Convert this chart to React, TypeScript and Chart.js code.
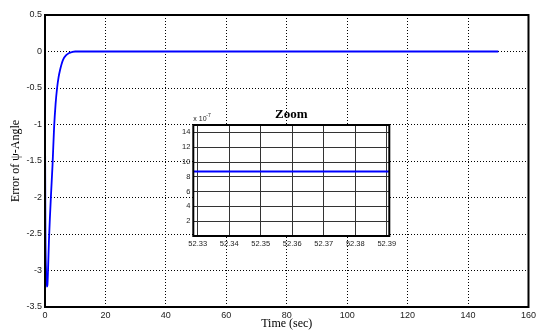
import React, { useEffect, useRef } from "react";
import { Chart, registerables } from "chart.js";

Chart.register(...registerables);

const timeSec = [0, 0.05, 0.15, 0.35, 0.6, 0.8, 1.0, 1.3, 1.6, 2.0, 2.5, 3.0, 3.5, 4.0, 4.5, 5.0, 5.5, 6.0, 7.0, 8.0, 9.0, 10, 12, 150];
const psiError = [0, -1.5, -2.5, -3.0, -3.22, -3.2, -3.0, -2.6, -2.3, -1.95, -1.55, -1.05, -0.72, -0.5, -0.35, -0.25, -0.17, -0.11, -0.05, -0.02, -0.007, 0, 0, 0];

const xTicks = [0, 20, 40, 60, 80, 100, 120, 140, 160];
const yTicks = [0.5, 0, -0.5, -1, -1.5, -2, -2.5, -3, -3.5];

const zoomTime = [52.32, 52.40];
const zoomError = [8.7, 8.7]; // x 10^-7
const zoomXTicks = [52.33, 52.34, 52.35, 52.36, 52.37, 52.38, 52.39];
const zoomYTicks = [2, 4, 6, 8, 10, 12, 14];

const SANS = "'Liberation Sans', Arial, sans-serif";
const SERIF = "'Liberation Serif', 'Times New Roman', serif";

const boxPlugin = {
  id: "box",
  afterDraw(chart: any) {
    const { ctx, chartArea: a } = chart;
    ctx.save();
    ctx.strokeStyle = "#000";
    ctx.lineWidth = 2;
    ctx.strokeRect(a.left, a.top, a.right - a.left, a.bottom - a.top);
    ctx.restore();
  },
};

const insetPlugin = {
  id: "insetBg",
  beforeDraw(chart: any) {
    const { ctx, chartArea: a } = chart;
    ctx.save();
    ctx.fillStyle = "#fff";
    ctx.fillRect(a.left, a.top, a.right - a.left, a.bottom - a.top);
    ctx.restore();
  },
  afterDraw(chart: any) {
    const { ctx, chartArea: a } = chart;
    ctx.save();
    ctx.fillStyle = "#222";
    ctx.textBaseline = "alphabetic";
    ctx.textAlign = "left";
    ctx.font = `7px ${SANS}`;
    ctx.fillText("x 10", a.left, a.top - 4);
    ctx.font = `5px ${SANS}`;
    ctx.fillText("-7", a.left + 13, a.top - 8);
    ctx.fillStyle = "#000";
    ctx.font = `bold 13px ${SERIF}`;
    ctx.textAlign = "center";
    ctx.fillText("Zoom", (a.left + a.right) / 2, a.top - 7);
    ctx.restore();
  },
};

export default function App() {
  const mainRef = useRef<HTMLCanvasElement>(null);
  const insetRef = useRef<HTMLCanvasElement>(null);

  useEffect(() => {
    document.body.style.margin = "0";
    const main = new Chart(mainRef.current!, {
      type: "line",
      data: {
        datasets: [
          {
            data: timeSec.map((t, i) => ({ x: t, y: psiError[i] })),
            borderColor: "#0000ff",
            borderWidth: 1.8,
            pointRadius: 0,
            cubicInterpolationMode: "monotone",
          },
        ],
      },
      options: {
        animation: false,
        responsive: false,
        layout: { padding: { left: 0, right: 6, top: 15, bottom: 0 } },
        plugins: { legend: { display: false }, tooltip: { enabled: false } },
        scales: {
          x: {
            type: "linear",
            min: 0,
            max: 160,
            afterBuildTicks: (s: any) => { s.ticks = xTicks.map((v) => ({ value: v })); },
            afterFit: (s: any) => { s.height = 26; },
            grid: { color: "#000", lineWidth: 1, drawTicks: false },
            border: { display: false, dash: [1, 2] },
            ticks: { color: "#222", font: { family: SANS, size: 9 }, padding: 3, maxRotation: 0, callback: (v: any) => String(v) },
            title: { display: true, text: "Time (sec)", color: "#000", font: { family: SERIF, size: 12 }, padding: { top: 0, bottom: 2 } },
          },
          y: {
            type: "linear",
            min: -3.5,
            max: 0.5,
            afterBuildTicks: (s: any) => { s.ticks = yTicks.map((v) => ({ value: v })); },
            afterFit: (s: any) => { s.width = 45; },
            grid: { color: "#000", lineWidth: 1, drawTicks: false },
            border: { display: false, dash: [1, 2] },
            ticks: { color: "#222", font: { family: SANS, size: 9 }, padding: 3, callback: (v: any) => String(v) },
            title: { display: true, text: "Error of ψ-Angle", color: "#000", font: { family: SERIF, size: 12 }, padding: { top: 9, bottom: 0 } },
          },
        },
      },
      plugins: [boxPlugin],
    } as any);

    const inset = new Chart(insetRef.current!, {
      type: "line",
      data: {
        datasets: [
          {
            data: zoomTime.map((t, i) => ({ x: t, y: zoomError[i] })),
            borderColor: "#0000ff",
            borderWidth: 2,
            pointRadius: 0,
          },
        ],
      },
      options: {
        animation: false,
        responsive: false,
        layout: { padding: { left: 0, right: 20.7, top: 25, bottom: 0 } },
        plugins: { legend: { display: false }, tooltip: { enabled: false } },
        scales: {
          x: {
            type: "linear",
            min: 52.3286,
            max: 52.3908,
            afterBuildTicks: (s: any) => { s.ticks = zoomXTicks.map((v) => ({ value: v })); },
            afterFit: (s: any) => { s.height = 24; },
            grid: { color: "#333", lineWidth: 1, drawTicks: false },
            border: { display: false },
            ticks: { color: "#222", font: { family: SANS, size: 7.5 }, padding: 3, maxRotation: 0, autoSkip: false, callback: (v: any) => Number(v).toFixed(2) },
          },
          y: {
            type: "linear",
            min: 0,
            max: 15,
            afterBuildTicks: (s: any) => { s.ticks = zoomYTicks.map((v) => ({ value: v })); },
            afterFit: (s: any) => { s.width = 43.3; },
            grid: { color: "#333", lineWidth: 1, drawTicks: false },
            border: { display: false },
            ticks: { color: "#222", font: { family: SANS, size: 7.5 }, padding: 3, callback: (v: any) => String(v) },
          },
        },
      },
      plugins: [insetPlugin, boxPlugin],
    } as any);

    return () => {
      main.destroy();
      inset.destroy();
    };
  }, []);

  return (
    <div style={{ position: "relative", width: 539, height: 333 }}>
      <canvas ref={mainRef} width={539} height={333} style={{ position: "absolute", left: 0, top: 0 }} />
      <canvas ref={insetRef} width={260} height={160} style={{ position: "absolute", left: 150, top: 100 }} />
    </div>
  );
}
